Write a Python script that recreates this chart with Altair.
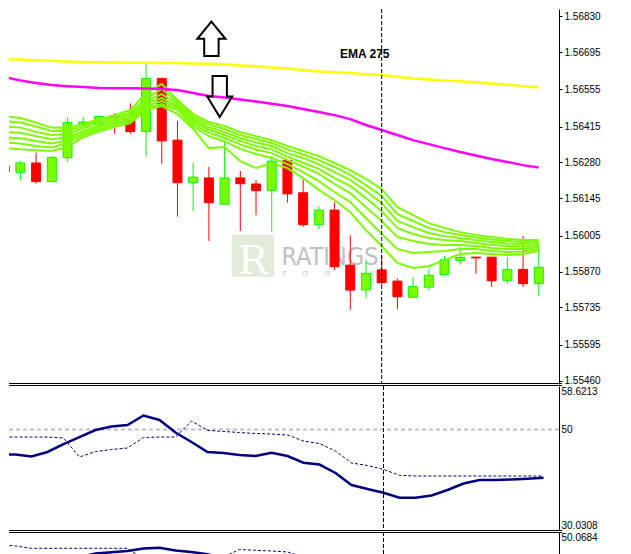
import altair as alt
import pandas as pd

# ---------------- data ----------------
bar_index = list(range(35))
open_p = [1.56267, 1.56243, 1.56278, 1.56208, 1.56298, 1.56423, 1.56427, 1.56453, 1.56442, 1.56396,
          1.56596, 1.56364, 1.56204, 1.56222, 1.56123, 1.56222, 1.56199, 1.56175, 1.56288, 1.56166,
          1.56046, 1.56101, 1.55894, 1.55801, 1.55876, 1.55834, 1.55773, 1.55811, 1.55859, 1.55912,
          1.55924, 1.55924, 1.55837, 1.55878, 1.55824]
high_p = [1.56274, 1.56285, 1.56317, 1.56304, 1.56448, 1.56451, 1.56453, 1.56465, 1.56502, 1.56649,
          1.56599, 1.56436, 1.56278, 1.56263, 1.56361, 1.56248, 1.56214, 1.56304, 1.56288, 1.56217,
          1.56116, 1.56131, 1.56006, 1.55916, 1.55931, 1.55843, 1.55849, 1.55878, 1.55928, 1.55963,
          1.55924, 1.55924, 1.55924, 1.56003, 1.55973]
low_p = [1.56237, 1.56213, 1.56200, 1.56207, 1.56283, 1.56417, 1.56396, 1.56388, 1.56388, 1.56304,
         1.56275, 1.56076, 1.56097, 1.55985, 1.56123, 1.56022, 1.56082, 1.56020, 1.56129, 1.56037,
         1.56029, 1.55876, 1.55726, 1.55771, 1.55819, 1.55728, 1.55773, 1.55800, 1.55853, 1.55896,
         1.55862, 1.55812, 1.55824, 1.55812, 1.55778]
close_p = [1.56244, 1.56278, 1.56208, 1.56299, 1.56431, 1.56432, 1.56453, 1.56448, 1.56396, 1.56596,
           1.56361, 1.56204, 1.56225, 1.56129, 1.56222, 1.56200, 1.56174, 1.56285, 1.56162, 1.56046,
           1.56101, 1.55888, 1.55800, 1.55863, 1.55828, 1.55775, 1.55814, 1.55856, 1.55914, 1.55923,
           1.55921, 1.55835, 1.55878, 1.55824, 1.55886]

ema_yellow = [1.56668, 1.56667, 1.56664, 1.56662, 1.56660, 1.56658, 1.56657, 1.56656, 1.56655, 1.56655,
              1.56654, 1.56654, 1.56652, 1.56651, 1.56649, 1.56645, 1.56642, 1.56637, 1.56633, 1.56628,
              1.56622, 1.56619, 1.56616, 1.56612, 1.56609, 1.56602, 1.56596, 1.56592, 1.56588, 1.56585,
              1.56582, 1.56577, 1.56572, 1.56567, 1.56562]
ema_magenta = [1.56601, 1.56588, 1.56579, 1.56571, 1.56567, 1.56564, 1.56560, 1.56559, 1.56559, 1.56558,
               1.56556, 1.56552, 1.56541, 1.56530, 1.56524, 1.56517, 1.56509, 1.56501, 1.56492, 1.56481,
               1.56470, 1.56458, 1.56443, 1.56421, 1.56402, 1.56383, 1.56364, 1.56349, 1.56334, 1.56319,
               1.56306, 1.56293, 1.56282, 1.56270, 1.56261]

ribbon_1 = [1.56454, 1.56447, 1.56430, 1.56411, 1.56410, 1.56425, 1.56443, 1.56458, 1.56477, 1.56541,
            1.56575, 1.56515, 1.56462, 1.56432, 1.56417, 1.56394, 1.56379, 1.56364, 1.56342, 1.56323,
            1.56304, 1.56278, 1.56251, 1.56218, 1.56180, 1.56112, 1.56082, 1.56052, 1.56034, 1.56018,
            1.56007, 1.56000, 1.55992, 1.55988, 1.55988]
ribbon_2 = [1.56436, 1.56430, 1.56415, 1.56398, 1.56398, 1.56417, 1.56436, 1.56451, 1.56467, 1.56522,
            1.56556, 1.56507, 1.56452, 1.56423, 1.56406, 1.56383, 1.56368, 1.56353, 1.56329, 1.56310,
            1.56289, 1.56263, 1.56233, 1.56195, 1.56154, 1.56086, 1.56060, 1.56034, 1.56018, 1.56007,
            1.55998, 1.55990, 1.55985, 1.55981, 1.55983]
ribbon_3 = [1.56415, 1.56411, 1.56395, 1.56383, 1.56387, 1.56408, 1.56428, 1.56443, 1.56460, 1.56511,
            1.56537, 1.56500, 1.56443, 1.56413, 1.56394, 1.56372, 1.56355, 1.56342, 1.56315, 1.56297,
            1.56273, 1.56244, 1.56214, 1.56173, 1.56127, 1.56060, 1.56037, 1.56015, 1.56003, 1.55996,
            1.55988, 1.55981, 1.55975, 1.55973, 1.55977]
ribbon_4 = [1.56394, 1.56392, 1.56379, 1.56367, 1.56375, 1.56398, 1.56419, 1.56436, 1.56451, 1.56502,
            1.56522, 1.56492, 1.56434, 1.56404, 1.56383, 1.56361, 1.56342, 1.56329, 1.56302, 1.56279,
            1.56256, 1.56221, 1.56192, 1.56146, 1.56097, 1.56034, 1.56011, 1.55996, 1.55988, 1.55985,
            1.55977, 1.55970, 1.55966, 1.55964, 1.55970]
ribbon_5 = [1.56374, 1.56371, 1.56361, 1.56351, 1.56364, 1.56390, 1.56412, 1.56428, 1.56443, 1.56492,
            1.56511, 1.56485, 1.56425, 1.56392, 1.56372, 1.56348, 1.56329, 1.56315, 1.56289, 1.56264,
            1.56237, 1.56199, 1.56165, 1.56112, 1.56060, 1.56000, 1.55985, 1.55974, 1.55970, 1.55970,
            1.55966, 1.55958, 1.55955, 1.55955, 1.55962]
ribbon_6 = [1.56355, 1.56351, 1.56342, 1.56336, 1.56353, 1.56383, 1.56404, 1.56421, 1.56436, 1.56485,
            1.56500, 1.56477, 1.56415, 1.56379, 1.56359, 1.56331, 1.56312, 1.56297, 1.56274, 1.56244,
            1.56210, 1.56169, 1.56131, 1.56071, 1.56011, 1.55955, 1.55940, 1.55943, 1.55947, 1.55955,
            1.55955, 1.55947, 1.55943, 1.55945, 1.55955]
ribbon_7 = [1.56334, 1.56330, 1.56326, 1.56323, 1.56338, 1.56375, 1.56396, 1.56413, 1.56428, 1.56477,
            1.56492, 1.56462, 1.56406, 1.56334, 1.56338, 1.56285, 1.56259, 1.56278, 1.56259, 1.56221,
            1.56177, 1.56139, 1.56093, 1.56026, 1.55966, 1.55902, 1.55883, 1.55890, 1.55913, 1.55936,
            1.55940, 1.55936, 1.55932, 1.55936, 1.55947]

osc_main = [45.06, 45.02, 44.62, 45.52, 47.10, 48.49, 49.88, 50.58, 50.88, 52.76,
            51.87, 49.39, 47.50, 45.52, 45.32, 44.92, 44.72, 45.38, 44.72, 43.39,
            43.03, 41.35, 38.96, 38.17, 37.44, 36.44, 36.44, 36.88, 37.97, 39.26,
            39.96, 39.96, 40.06, 40.21, 40.41]
osc_signal = [48.49, 48.49, 48.49, 48.49, 48.30, 44.52, 45.61, 46.01, 46.31, 48.39,
              48.49, 48.49, 51.67, 49.82, 49.59, 49.39, 49.19, 49.09, 48.89, 47.70,
              47.20, 45.71, 43.33, 42.84, 42.08, 40.89, 40.75, 40.75, 40.75, 40.75,
              40.75, 40.75, 40.75, 40.75, 40.75]
osc_level = [50]

sub_main = [44.27, 43.87, 43.67, 44.07, 44.67, 45.07, 45.77, 46.01, 46.27, 46.77,
            46.93, 46.37, 46.07, 45.61, 44.87, 44.27, 43.90, 43.70, 43.50, 43.20,
            42.90, 42.60, 42.30, 42.10, 41.90, 41.80, 41.80, 41.90, 42.00, 42.10,
            42.20, 42.20, 42.30, 42.30, 42.40]
sub_signal = [47.57, 47.27, 46.81, 46.81, 46.81, 46.81, 46.81, 46.81, 46.81, 44.67,
              43.87, 43.67, 43.67, 44.07, 45.07, 46.57, 46.41, 46.27, 46.07, 45.07,
              44.27, 43.90, 43.50, 43.20, 43.00, 42.90, 42.90, 43.00, 43.10, 43.20,
              43.30, 43.30, 43.40, 43.40, 43.50]

price_ticks = [1.55460, 1.55595, 1.55735, 1.55870, 1.56005, 1.56145,
               1.56280, 1.56415, 1.56555, 1.56695, 1.56830]
osc_ticks = [30.0308, 50, 58.6213]
sub_ticks = [50.0684]

cursor_bar = [24]
arrow_up_bar, arrow_up_price = [13.16], [1.56745]
arrow_dn_bar, arrow_dn_price = [13.69], [1.56528]
label_text, label_bar, label_price = ["EMA 275"], [21.34], [1.56688]

logo_bar = [14.45, 17.15]
logo_price = [1.55850, 1.56008]
logo_letter, logo_letter_bar, logo_letter_price = ["R"], [15.8], [1.55905]
wm_word, wm_word_bar, wm_word_price = ["RATINGS"], [17.62], [1.55895]
wm_letters = ["F", "O", "R", "E", "X"]
wm_letters_bar = [17.84, 19.12, 20.56, 21.84, 23.38]
wm_letters_price = [1.55853] * 5

# ---------------- frames ----------------
candles = pd.DataFrame({"bar": bar_index, "open": open_p, "high": high_p,
                        "low": low_p, "close": close_p})
candles["dir"] = ["up" if c >= o else "down" for o, c in zip(open_p, close_p)]

rib_rows = []
for name, series in [("r1", ribbon_1), ("r2", ribbon_2), ("r3", ribbon_3), ("r4", ribbon_4),
                     ("r5", ribbon_5), ("r6", ribbon_6), ("r7", ribbon_7)]:
    for b, v in zip(bar_index, series):
        rib_rows.append({"bar": b, "val": v, "line": name})
ribbon = pd.DataFrame(rib_rows)
emas = pd.DataFrame({"bar": bar_index, "yellow": ema_yellow, "magenta": ema_magenta})
osc = pd.DataFrame({"bar": bar_index, "main": osc_main, "signal": osc_signal})
sub = pd.DataFrame({"bar": bar_index, "main": sub_main, "signal": sub_signal})
cursor = pd.DataFrame({"bar": cursor_bar})
one = pd.DataFrame({"k": [0]})

W = 550
H_MAIN, H_OSC, H_SUB = 375, 144, 30
FONT = "Liberation Sans"

xs = alt.Scale(domain=[0.59375, 34.96875], nice=False, zero=False)
X = alt.X("bar:Q", scale=xs, axis=None)
ys_main = alt.Scale(domain=[1.55447, 1.56857], nice=False, zero=False)
ys_osc = alt.Scale(domain=[30.0308, 58.6213], nice=False, zero=False)
ys_sub = alt.Scale(domain=[44.0684, 50.0684], nice=False, zero=False)

def right_axis(values, label_expr, ticks=True, flush=False):
    return alt.Axis(orient="right", values=values, labelExpr=label_expr, title=None, grid=False,
                    ticks=ticks, tickSize=3, tickColor="black", domainColor="black",
                    labelColor="black", labelFont=FONT, labelFontSize=10, labelPadding=2,
                    labelFlush=flush, labelOverlap=False)

MAIN_AXIS = right_axis(price_ticks, "format(datum.value, '.5f')")
OSC_AXIS = right_axis(osc_ticks, "datum.value == 50 ? '50' : format(datum.value, '.4f')",
                      ticks=False, flush=True)
SUB_AXIS = right_axis(sub_ticks, "format(datum.value, '.4f')", ticks=False, flush=True)

def YM(field):
    return alt.Y(field, scale=ys_main, axis=MAIN_AXIS)

def YO(field):
    return alt.Y(field, scale=ys_osc, axis=OSC_AXIS)

def YS(field):
    return alt.Y(field, scale=ys_sub, axis=SUB_AXIS)

# ---------------- main panel ----------------
logo = alt.Chart(pd.DataFrame({"b0": [logo_bar[0]], "b1": [logo_bar[1]],
                               "p0": [logo_price[0]], "p1": [logo_price[1]]})).mark_rect(
    color="#dfe9d6", opacity=0.9, clip=True).encode(
    x=alt.X("b0:Q", scale=xs, axis=None), x2="b1:Q", y=YM("p0:Q"), y2="p1:Q")
logo_r = alt.Chart(pd.DataFrame({"t": logo_letter, "bar": logo_letter_bar, "p": logo_letter_price})).mark_text(
    font="DejaVu Serif", fontSize=40, color="#ffffff", baseline="middle", align="center").encode(
    x=X, y=YM("p:Q"), text="t:N")
wm = alt.Chart(pd.DataFrame({"t": wm_word, "bar": wm_word_bar, "p": wm_word_price})).mark_text(
    font="Liberation Sans Narrow, DejaVu Sans Condensed, Liberation Sans", fontSize=25,
    color="#b5b5b5", align="left", baseline="alphabetic", opacity=0.85).encode(
    x=X, y=YM("p:Q"), text="t:N")
wm2 = alt.Chart(pd.DataFrame({"t": wm_letters, "bar": wm_letters_bar, "p": wm_letters_price})).mark_text(
    font=FONT, fontSize=7, color="#c4c4c4", align="center", baseline="alphabetic").encode(
    x=X, y=YM("p:Q"), text="t:N")

dir_dom = ["up", "down"]
wicks = alt.Chart(candles).mark_rule(strokeWidth=1, clip=True).encode(
    x=X, y=YM("low:Q"), y2="high:Q",
    color=alt.Color("dir:N", scale=alt.Scale(domain=dir_dom, range=["#00FF00", "#FF0000"]), legend=None))
bodies = alt.Chart(candles).mark_bar(size=9, strokeWidth=1, clip=True).encode(
    x=X, y=YM("open:Q"), y2="close:Q",
    fill=alt.Fill("dir:N", scale=alt.Scale(domain=dir_dom, range=["#7CFC00", "#FF0000"]), legend=None),
    stroke=alt.Stroke("dir:N", scale=alt.Scale(domain=dir_dom, range=["#00FF00", "#FF0000"]), legend=None))

rib = alt.Chart(ribbon).mark_line(color="#7CFC00", strokeWidth=2, clip=True).encode(
    x=X, y=YM("val:Q"), detail="line:N")
yel = alt.Chart(emas).mark_line(color="#FFFF00", strokeWidth=2.5, clip=True).encode(
    x=X, y=YM("yellow:Q"))
mag = alt.Chart(emas).mark_line(color="#FF00FF", strokeWidth=2.5, clip=True).encode(
    x=X, y=YM("magenta:Q"))

def vline():
    return alt.Chart(cursor).mark_rule(color="black", strokeWidth=1, strokeDash=[4, 2]).encode(x=X)

up_path = "M0,-1 L0.82,0 L0.42,0 L0.42,1 L-0.42,1 L-0.42,0 L-0.82,0 Z"
dn_path = "M0,1 L0.61,0 L0.35,0 L0.35,-1 L-0.35,-1 L-0.35,0 L-0.61,0 Z"
arrow_up = alt.Chart(pd.DataFrame({"bar": arrow_up_bar, "p": arrow_up_price})).mark_point(
    shape=up_path, size=1176, filled=False, stroke="black", strokeWidth=2, opacity=1).encode(
    x=X, y=YM("p:Q"))
arrow_dn = alt.Chart(pd.DataFrame({"bar": arrow_dn_bar, "p": arrow_dn_price})).mark_point(
    shape=dn_path, size=1681, filled=False, stroke="black", strokeWidth=2, opacity=1).encode(
    x=X, y=YM("p:Q"))
ema_label = alt.Chart(pd.DataFrame({"t": label_text, "bar": label_bar, "p": label_price})).mark_text(
    font=FONT, fontSize=12, fontWeight="bold", color="black", align="left", baseline="middle").encode(
    x=X, y=YM("p:Q"), text="t:N")

def hrule(ypix):
    return alt.Chart(one).mark_rule(color="black", strokeWidth=1).encode(
        x=alt.value(0), x2=alt.value(W + 3), y=alt.value(ypix))

main = alt.layer(logo, logo_r, wm, wm2, wicks, bodies, rib, mag, yel, vline(),
                 arrow_up, arrow_dn, ema_label, hrule(H_MAIN - 0.5)).properties(width=W, height=H_MAIN)

# ---------------- oscillator panel ----------------
level = alt.Chart(pd.DataFrame({"lv": osc_level})).mark_rule(
    color="#C0C0C0", strokeWidth=2, strokeDash=[4, 3]).encode(y=YO("lv:Q"))
osc_sig = alt.Chart(osc).mark_line(color="#000080", strokeWidth=1, strokeDash=[3, 2], clip=True).encode(
    x=X, y=YO("signal:Q"))
osc_line = alt.Chart(osc).mark_line(color="#000080", strokeWidth=2.5, clip=True).encode(
    x=X, y=YO("main:Q"))
oscp = alt.layer(level, vline(), osc_sig, osc_line, hrule(-0.5), hrule(H_OSC + 0.5)).properties(
    width=W, height=H_OSC)

# ---------------- lower panel ----------------
sub_sig = alt.Chart(sub).mark_line(color="#000080", strokeWidth=1, strokeDash=[3, 2], clip=True).encode(
    x=X, y=YS("signal:Q"))
sub_line = alt.Chart(sub).mark_line(color="#000080", strokeWidth=2.5, clip=True).encode(
    x=X, y=YS("main:Q"))
subp = alt.layer(sub_sig, sub_line, vline(), hrule(0.5)).properties(width=W, height=H_SUB)

chart = alt.vconcat(main, oscp, subp, spacing=2, bounds="flush").properties(
    padding=0, background="white").configure_view(stroke=None).configure_axis(labelOverlap=False)

chart.save("out.html", embed_options={"renderer": "svg", "actions": False})
